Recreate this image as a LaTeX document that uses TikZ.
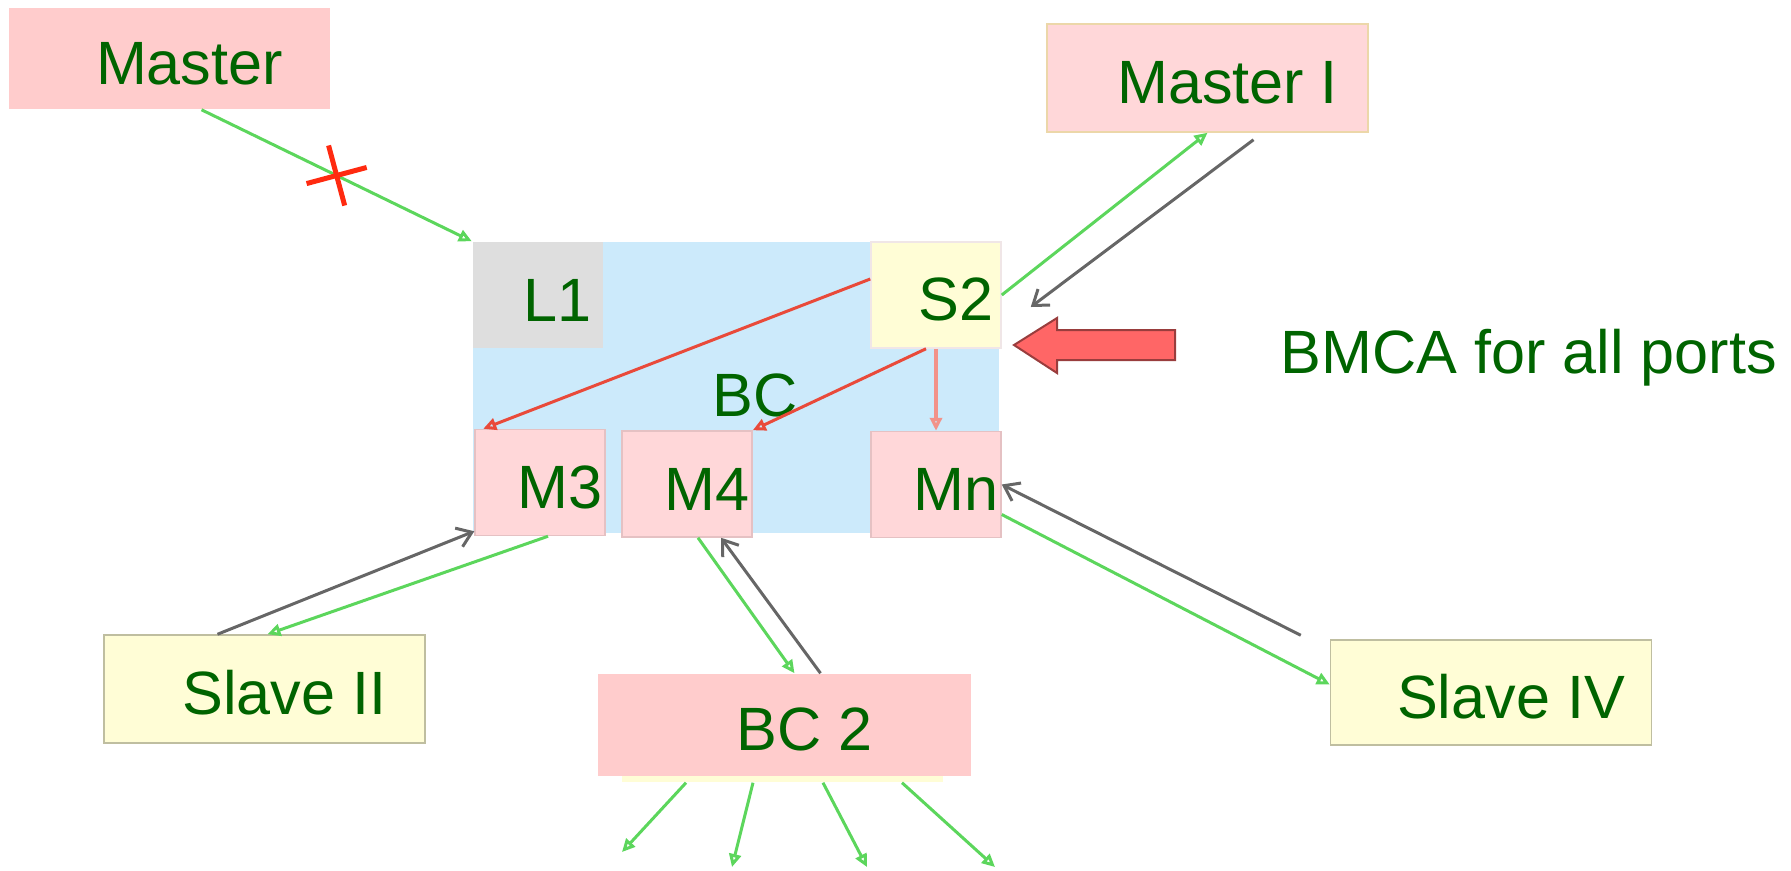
\documentclass[tikz,border=0pt]{standalone}
\usepackage{fontspec}
\setmainfont{Liberation Sans}
\usetikzlibrary{arrows.meta,shapes.misc}

\definecolor{txtgreen}{HTML}{006400}
\definecolor{boxpink}{HTML}{FFCCCC}
\definecolor{portpink}{HTML}{FFD7D9}
\definecolor{boxyellow}{HTML}{FFFDD6}
\definecolor{portgray}{HTML}{DEDEDE}
\definecolor{bcblue}{HTML}{CCEAFB}
\definecolor{syncgreen}{HTML}{5CD65C}
\definecolor{replygray}{HTML}{666666}
\definecolor{bmcared}{HTML}{E94A3A}
\definecolor{bigred}{HTML}{FF6666}
\definecolor{xred}{HTML}{FF2A10}

\tikzset{>={Triangle[open,length=1.3mm,width=1.2mm]}}
\tikzset{
  box/.style={inner sep=0pt, text=txtgreen, line width=0.15mm, text height=5.2mm,
    execute at begin node={\hspace*{4mm}}},
  clock/.style={box, minimum width=32.1mm, minimum height=10.6mm},
  port/.style={box, minimum width=13mm, minimum height=10.6mm},
  sync/.style={->, syncgreen, line width=0.3mm},
  reply/.style={-{Straight Barb[length=1.4mm,width=2mm]}, replygray, line width=0.3mm},
  bmca/.style={->, bmcared, line width=0.3mm},
}

\begin{document}
\begin{tikzpicture}[x=0.1mm, y=-0.1mm]
  \fontsize{17.4pt}{20pt}\selectfont
  \useasboundingbox (0,0) rectangle (1791,870);

  % boundary clock
  \fill[bcblue] (473,242) rectangle (999,533);
  \node[port, fill=portgray] (l1) at (537.5,295) {L1};
  \node[port, fill=boxyellow, draw=portpink!80!black!30] (s2) at (936,295) {S2};
  \node[port, fill=portpink, draw=portpink!90!black] (m3) at (540,482.5) {M3};
  \node[port, fill=portpink, draw=portpink!90!black] (m4) at (687,484) {M4};
  \node[port, fill=portpink, draw=portpink!90!black] (mn) at (936,484.5) {Mn};
  \node[text=txtgreen] (bc) at (755,395) {BC};

  % clocks around it
  \node[clock, fill=boxpink, minimum height=10.1mm] (master) at (169.5,58.5) {Master};
  \node[clock, fill=portpink, draw=boxyellow!70!brown, minimum height=10.8mm] (masteri) at (1207.5,78) {Master I};
  \node[clock, fill=boxyellow, draw=boxyellow!75!black, minimum height=10.8mm] (slaveii) at (264.5,689) {Slave II};
  \node[fill=boxyellow, inner sep=0pt, minimum width=32.1mm, minimum height=8mm] (bcback) at (782.5,742) {};
  \node[clock, fill=boxpink, minimum width=37.3mm, minimum height=10.2mm] (bc2) at (784.5,725) {BC 2};
  \node[clock, fill=boxyellow, draw=boxyellow!75!black, minimum height=10.5mm] (slaveiv) at (1491,692.5) {Slave IV};

  \node[text=txtgreen, anchor=base west, inner sep=0pt] (bmca) at (1280,373) {BMCA for all ports};
  \draw[fill=bigred, draw=bigred!60!black, line width=0.2mm]
    (1014,345) -- (1057,318) -- (1057,330) -- (1175,330) -- (1175,360) -- (1057,360) -- (1057,373) -- cycle;

  % master link is cut
  \draw[sync] ([xshift=3.2mm]master.south) -- node[cross out, draw=xred, line width=0.5mm,
    minimum size=3.9mm, rotate=-30, inner sep=0pt] (cut) {} (l1.north west);

  \draw[sync] (s2.east) -- (masteri.south);
  \draw[reply] ([shift={(4.6mm,-0.7mm)}]masteri.south) -- ([shift={(2.9mm,-1.2mm)}]s2.east);

  \draw[bmca] ([yshift=1.6mm]s2.west) -- ([xshift=0.9mm]m3.north west);
  \draw[bmca] ([xshift=-1mm]s2.south) -- (m4.north east);
  \draw[bmca, bmcared!60, line width=0.4mm] (s2.south) -- (mn.north);

  \draw[reply] ([xshift=-4.7mm]slaveii.north) -- ([yshift=0.5mm]m3.south west);
  \draw[sync] ([xshift=0.8mm]m3.south) -- ([xshift=0.3mm]slaveii.north);
  \draw[sync] ([xshift=1.1mm]m4.south) -- ([xshift=1mm]bc2.north);
  \draw[reply] ([xshift=3.6mm]bc2.north) -- ([xshift=3.4mm]m4.south);
  \draw[sync] ([yshift=-3mm]mn.east) -- ([yshift=0.8mm]slaveiv.west);
  \draw[reply] ([shift={(-2.9mm,0.4mm)}]slaveiv.north west) -- (mn.east);

  % downstream of BC 2
  \foreach \i/\dx/\ex/\ey in {1/-9.65/622/852, 2/-2.95/732/867, 3/4.05/867/867, 4/11.95/995/867}{
    \coordinate (fan\i) at (\ex,\ey);
    \draw[sync] ([xshift=\dx mm]bcback.south) -- (fan\i);
  }
\end{tikzpicture}
\end{document}
